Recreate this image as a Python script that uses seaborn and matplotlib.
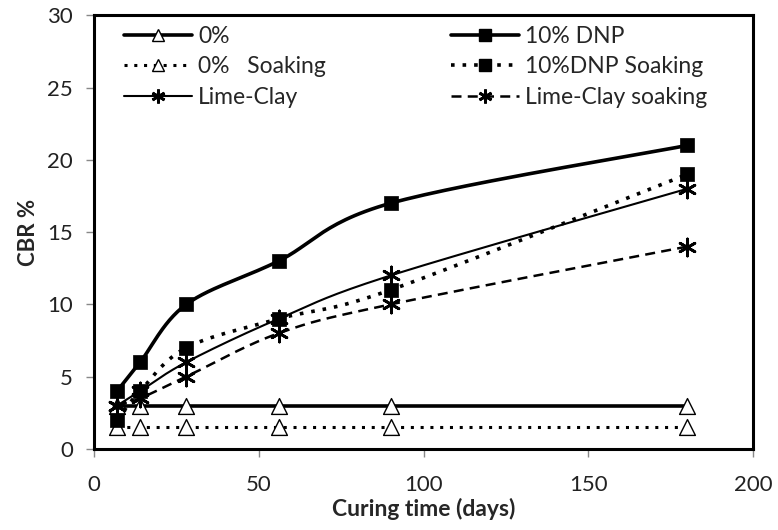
import numpy as np
import pandas as pd
import matplotlib
matplotlib.use("Agg")
import matplotlib.pyplot as plt
from matplotlib.lines import Line2D
import seaborn as sns

# Curing times (days) and CBR values (%)
days = [7, 14, 28, 56, 90, 180]
cbr_0 = [3, 3, 3, 3, 3, 3]
cbr_0_soak = [1.5, 1.5, 1.5, 1.5, 1.5, 1.5]
cbr_dnp = [4, 6, 10, 13, 17, 21]
cbr_dnp_soak = [2, 4, 7, 9, 11, 19]
cbr_lime = [3, 4, 6, 9, 12, 18]
cbr_lime_soak = [3, 3.5, 5, 8, 10, 14]

labels = ["0%", "0%   Soaking", "Lime-Clay", "10% DNP", "10%DNP Soaking", "Lime-Clay soaking"]

sns.set_theme(style="white")
plt.rcParams["font.family"] = ["Lato", "DejaVu Sans"]


def smooth(x, y, n=30):
    """Catmull-Rom style smoothing through the data points."""
    x = np.asarray(x, float)
    y = np.asarray(y, float)
    P = np.column_stack([x, y])
    ext = np.vstack([P[0], P, P[-1]])
    out = []
    for i in range(len(P) - 1):
        p0, p1, p2, p3 = ext[i], ext[i + 1], ext[i + 2], ext[i + 3]
        c1 = p1 + (p2 - p0) / 6.0
        c2 = p2 - (p3 - p1) / 6.0
        t = np.linspace(0, 1, n)[:, None]
        seg = ((1 - t) ** 3) * p1 + 3 * ((1 - t) ** 2) * t * c1 + 3 * (1 - t) * t ** 2 * c2 + t ** 3 * p2
        out.append(seg if i == 0 else seg[1:])
    s = np.vstack(out)
    return pd.DataFrame({"x": s[:, 0], "y": s[:, 1]})


series = [
    (cbr_0, "-", 2.6, "tri"),
    (cbr_0_soak, (0, (1, 2.2)), 2.2, "tri"),
    (cbr_lime, "-", 1.5, "star"),
    (cbr_dnp, "-", 2.6, "sq"),
    (cbr_dnp_soak, (0, (1, 2.2)), 2.6, "sq"),
    (cbr_lime_soak, (0, (4, 2.5)), 1.8, "star"),
]

fig = plt.figure(figsize=(7.78, 5.30), dpi=100)
ax = fig.add_axes([0.1208, 0.153, 0.8472, 0.818])

star = (6, 2, 0)
handles = []
for (vals, ls, lw, mk), lab in zip(series, labels):
    curve = smooth(days, vals)
    sns.lineplot(data=curve, x="x", y="y", ax=ax, sort=False, estimator=None,
                 color="black", linewidth=lw, linestyle=ls)
    pts = pd.DataFrame({"x": days, "y": vals})
    if mk == "tri":
        sns.scatterplot(data=pts, x="x", y="y", ax=ax, marker="^", s=130,
                        facecolor="white", edgecolor="black", linewidth=1.0, zorder=5)
        h = Line2D([], [], color="black", lw=lw, ls=ls, marker="^", ms=9,
                   mfc="white", mec="black", mew=1.0)
    elif mk == "sq":
        sns.scatterplot(data=pts, x="x", y="y", ax=ax, marker="s", s=110,
                        color="black", edgecolor="black", linewidth=0.5, zorder=5)
        h = Line2D([], [], color="black", lw=lw, ls=ls, marker="s", ms=9,
                   mfc="black", mec="black")
    else:
        sns.scatterplot(data=pts, x="x", y="y", ax=ax, marker=star, s=150,
                        color="black", edgecolor="black", linewidth=2.0, zorder=5)
        h = Line2D([], [], color="black", lw=lw, ls=ls, marker=star, ms=10,
                   mec="black", mew=2.0)
    handles.append(h)

ax.set_xlim(0, 200)
ax.set_ylim(0, 30)
ax.set_xticks([0, 50, 100, 150, 200])
ax.set_yticks([0, 5, 10, 15, 20, 25, 30])
ax.tick_params(axis="both", which="both", direction="out", length=6, width=1,
               color="#888888", labelsize=16, pad=9, left=True, bottom=True,
               labelcolor="#222222")
ax.tick_params(axis="x", pad=13)
for sp in ax.spines.values():
    sp.set_color("black")
    sp.set_linewidth(2.2)

ax.set_xlabel("Curing time (days)", fontsize=16.5, fontweight="bold", labelpad=2)
ax.set_ylabel("CBR %", fontsize=16, fontweight="bold", labelpad=6)

# Two legend columns, each placed on its own
leg_kw = dict(frameon=False, fontsize=16.5, handlelength=3.0, labelspacing=0.4,
              handletextpad=0.25, borderpad=0, borderaxespad=0, loc="upper left")
leg1 = ax.legend(handles=handles[:3], labels=labels[:3],
                 bbox_to_anchor=(0.045, 0.975), **leg_kw)
ax.add_artist(leg1)
ax.legend(handles=handles[3:], labels=labels[3:],
          bbox_to_anchor=(0.541, 0.975), **leg_kw)

fig.savefig("out.png", dpi=100, facecolor="white")
